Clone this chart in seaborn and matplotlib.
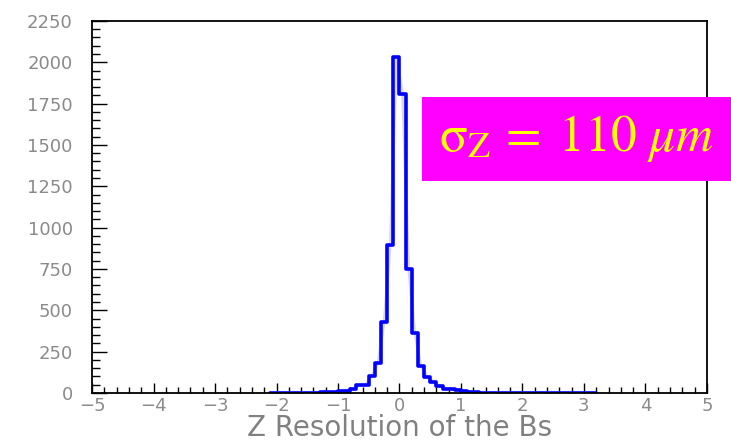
import numpy as np
import pandas as pd
import matplotlib
matplotlib.use("Agg")
import matplotlib.pyplot as plt
from matplotlib.patches import Rectangle
from matplotlib.ticker import MultipleLocator
import seaborn as sns

# Histogram of the Z resolution of the Bs: bins of 0.1 starting at -2.1
bin_start = -2.1
bin_width = 0.1
counts = [
    2, 2, 2, 2, 2, 2, 2, 2,            # -2.1 .. -1.3
    8, 3, 3, 12, 12, 25, 48, 50,       # -1.3 .. -0.5
    103, 182, 430, 895, 2030,          # -0.5 ..  0.0
    1810, 750, 362, 162, 99, 68, 44, 26, 22, 20,   # 0.0 .. 1.0
    12, 5, 4, 0, 0, 2, 2, 2, 2, 2,     # 1.0 .. 2.0
    0, 0, 2, 2, 2, 0, 0, 0, 0, 0,      # 2.0 .. 3.0
    0, 2,                              # 3.0 .. 3.2
]
x_ticks = [-5, -4, -3, -2, -1, 0, 1, 2, 3, 4, 5]
y_ticks = [0, 250, 500, 750, 1000, 1250, 1500, 1750, 2000, 2250]
x_label = "Z Resolution of the Bs"
box_text = r"$\mathrm{\sigma}_{\mathrm{Z}}\, \mathrm{=}\; \mathrm{110}\ \mathit{\mu m}$"

n_bins = len(counts)
edges = [round(bin_start + bin_width * i, 6) for i in range(n_bins + 1)]
centers = [round((a + b) / 2, 6) for a, b in zip(edges[:-1], edges[1:])]
df = pd.DataFrame({"z": centers, "n": counts})

sns.set_style("white")
plt.rcParams["font.family"] = ["DejaVu Sans"]
plt.rcParams["mathtext.fontset"] = "stix"

fig = plt.figure(figsize=(7.31, 4.45), dpi=100)
ax = fig.add_axes([0.126, 0.117, 0.841, 0.836])

# smooth guide through the bin contents, drawn under the histogram
sns.lineplot(data=df, x="z", y="n", ax=ax, color="#d9d9d9", linewidth=2.0,
             zorder=1)
# the histogram itself as a blue step outline
sns.histplot(data=df, x="z", weights="n", bins=edges, element="step",
             fill=False, color="#0000ff", linewidth=2.6, ax=ax, zorder=2)

ax.set_xlim(-5, 5)
ax.set_ylim(0, 2250)
ax.set_xticks(x_ticks)
ax.set_yticks(y_ticks)
ax.set_xticklabels([f"{t:d}".replace("-", "\u2212") for t in x_ticks])
ax.set_yticklabels([str(t) for t in y_ticks])
ax.xaxis.set_minor_locator(MultipleLocator(0.2))
ax.yaxis.set_minor_locator(MultipleLocator(50))

ax.tick_params(axis="both", which="both", direction="in", color="black",
               labelcolor="#8a8a8a", labelsize=13, width=1.0,
               bottom=True, left=True, top=False, right=False)
ax.tick_params(axis="x", which="major", length=7, pad=3)
ax.tick_params(axis="x", which="minor", length=4)
ax.tick_params(axis="y", which="major", length=11, pad=14)
ax.tick_params(axis="y", which="minor", length=6)

for sp in ax.spines.values():
    sp.set_color("black")
    sp.set_linewidth(1.3)

ax.set_ylabel("")
ax.set_xlabel(x_label, fontsize=20, color="#808080", labelpad=-1)

# highlighted resolution box, reaching past the right edge of the frame
fig.patches.append(Rectangle((0.577, 0.593), 0.423, 0.189,
                             transform=fig.transFigure, facecolor="#ff00ff",
                             edgecolor="none", zorder=10))
fig.text(0.7885, 0.688, box_text, transform=fig.transFigure, color="#ffff00",
         fontsize=37, ha="center", va="center", zorder=11)

fig.savefig("out.png", dpi=100)
